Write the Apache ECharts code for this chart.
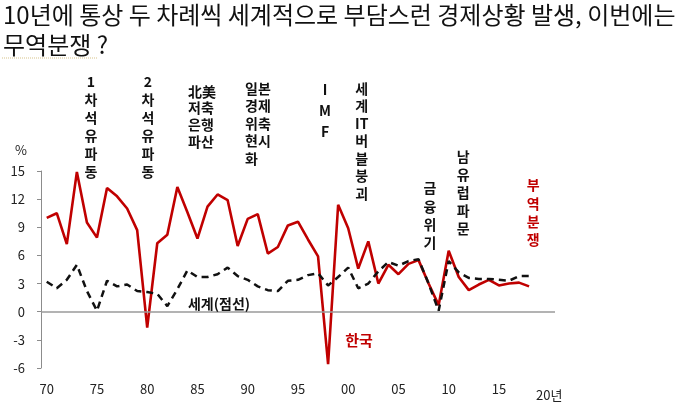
<!DOCTYPE html>
<html><head><meta charset="utf-8">
<script src="https://cdn.jsdelivr.net/npm/echarts@6/dist/echarts.min.js"></script>
<style>html,body{margin:0;padding:0;background:#fff}#c{width:680px;height:406px}</style>
</head><body><div id="c"></div>
<script>
// ---- data ----
const years = [1970,1971,1972,1973,1974,1975,1976,1977,1978,1979,
  1980,1981,1982,1983,1984,1985,1986,1987,1988,1989,
  1990,1991,1992,1993,1994,1995,1996,1997,1998,1999,
  2000,2001,2002,2003,2004,2005,2006,2007,2008,2009,
  2010,2011,2012,2013,2014,2015,2016,2017,2018];
const korea = [10.0,10.5,7.2,14.9,9.5,7.9,13.2,12.3,11.0,8.7,
  -1.7,7.3,8.2,13.3,10.6,7.8,11.2,12.5,11.9,7.0,
  9.9,10.4,6.2,6.9,9.2,9.6,7.7,5.9,-5.6,11.4,
  8.9,4.6,7.5,3.0,5.0,4.0,5.1,5.5,3.0,0.7,
  6.5,3.7,2.3,2.9,3.4,2.8,3.0,3.1,2.7];
const world = [3.2,2.5,3.4,5.0,2.2,0.1,3.3,2.7,2.9,2.2,
  2.1,1.9,0.6,2.4,4.4,3.7,3.7,4.0,4.7,3.8,
  3.4,2.7,2.3,2.2,3.3,3.4,3.9,4.1,2.8,3.7,
  4.7,2.5,3.0,4.3,5.3,4.9,5.4,5.6,3.0,0.1,
  5.4,4.2,3.6,3.5,3.5,3.4,3.3,3.8,3.8];
const xTickYears = [1970,1975,1980,1985,1990,1995,2000,2005,2010,2015,2020];
const xTickLabels = ['70','75','80','85','90','95','00','05','10','15','20년'];
const titleText = '10년에 통상 두 차례씩 세계적으로 부담스런 경제상황 발생, 이번에는\n무역분쟁 ?';
const events = ['1\n차\n석\n유\n파\n동','2\n차\n석\n유\n파\n동','北美\n저축\n은행\n파산',
  '일본\n경제\n위축\n현시\n화','I\nM\nF','세\n계\nIT\n버\n블\n붕\n괴','금\n융\n위\n기','남\n유\n럽\n파\n문','부\n역\n분\n쟁'];
const seriesNames = ['한국','세계(점선)'];

// ---- chart ----
const chart = echarts.init(document.getElementById('c'));
const FONT = '"Noto Sans CJK KR", "Noto Sans", sans-serif';
const RED = '#c00000';
function ev(i, x, y, lh, align, color) {
  return {type:'text', z:10, style:{text:events[i], x:x, y:y, align:align||'center', verticalAlign:'top',
    lineHeight:lh, font:'bold 14px ' + FONT, fill: color || '#111'}};
}
const option = {
  animation:false,
  backgroundColor:'#fff',
  grid:{left:41, right:125, top:171, bottom:38},
  xAxis:{type:'value', min:1969.43, max:2020.58,
    axisLine:{show:false}, axisTick:{show:false}, splitLine:{show:false},
    axisLabel:{customValues:xTickYears, margin:15, fontSize:13, color:'#222', fontFamily:FONT,
      formatter:function(v){const i = xTickYears.indexOf(Math.round(v)); const s = i>=0 ? xTickLabels[i] : '';
        return Math.round(v)===2020 ? '{b|'+s+'}' : s;},
      rich:{b:{fontSize:13, color:'#222', fontFamily:FONT, padding:[6,0,0,0]}}}},
  yAxis:{type:'value', min:-6, max:15, interval:3,
    name:'%', nameLocation:'end', nameGap:14,
    nameTextStyle:{align:'right', padding:[0,14,0,0], fontSize:13, color:'#222', fontFamily:FONT},
    axisLine:{show:true, lineStyle:{color:'#8c8c8c', width:1}},
    axisTick:{show:true, length:4, lineStyle:{color:'#8c8c8c'}},
    axisLabel:{margin:16, fontSize:13, color:'#222', fontFamily:FONT},
    splitLine:{show:false}},
  series:[
    {name:seriesNames[0], type:'line', data:years.map((y,i)=>[y,korea[i]]), showSymbol:false,
      lineStyle:{color:RED, width:2.6}, itemStyle:{color:RED}, z:2,
      markLine:{silent:true, symbol:['none','none'], label:{show:false},
        lineStyle:{color:'#9a9a9a', width:1.5, type:'solid'}, data:[{yAxis:0}]}},
    {name:seriesNames[1], type:'line', data:years.map((y,i)=>[y,world[i]]), showSymbol:false,
      lineStyle:{color:'#111', width:2.5, type:[7,5]}, itemStyle:{color:'#111'}, z:3}
  ],
  graphic:[
    {type:'text', style:{text:titleText, x:3, y:0, lineHeight:30, font:'24px ' + FONT, fill:'#111'}},
    {type:'line', shape:{x1:2, y1:58, x2:98, y2:58}, style:{stroke:'#d8c38a', lineWidth:1, lineDash:[1,1]}},
    ev(0, 91, 73, 18),
    ev(1, 148, 73, 18),
    ev(2, 188, 83, 16.7, 'left'),
    ev(3, 245, 79.5, 17.5, 'left'),
    ev(4, 325, 79.5, 21),
    ev(5, 361.7, 79.5, 17.5),
    ev(6, 430, 179, 18.3),
    ev(7, 463.3, 148, 18),
    ev(8, 533.3, 176, 18.3, 'center', RED),
    {type:'text', z:10, style:{text:seriesNames[1], x:219, y:303.5, align:'center', verticalAlign:'middle', font:'bold 14px ' + FONT, fill:'#111'}},
    {type:'text', z:10, style:{text:seriesNames[0], x:359, y:340, align:'center', verticalAlign:'middle', font:'bold 15px ' + FONT, fill:RED}}
  ]
};
chart.setOption(option);
</script>
</body></html>
